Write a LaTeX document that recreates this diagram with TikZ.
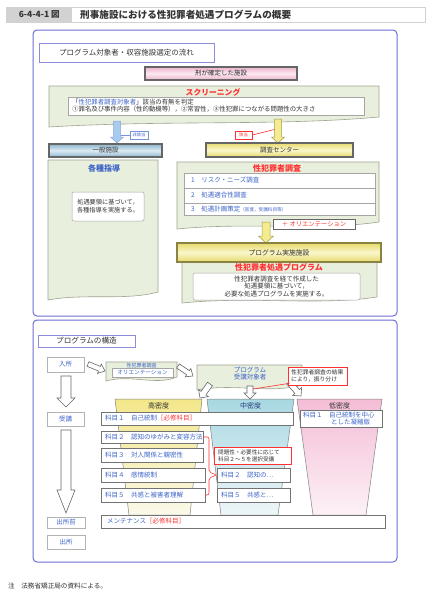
\documentclass[tikz,border=0pt]{standalone}
\usepackage{fontspec}
\setmainfont{Noto Sans CJK JP}
\usetikzlibrary{shadows}
\definecolor{pblue}{HTML}{6E6ED6}
\definecolor{tblue}{HTML}{3C64C8}
\definecolor{tred}{HTML}{FF3030}
\definecolor{gfill}{HTML}{E9EFDD}
\definecolor{gdraw}{HTML}{9EA590}
\definecolor{pk1}{HTML}{EDB3CA}
\definecolor{pk2}{HTML}{FBE8F0}
\definecolor{bl1}{HTML}{8DB6CE}
\definecolor{bl2}{HTML}{DCEBF4}
\definecolor{ye1}{HTML}{E6DA6C}
\definecolor{ye2}{HTML}{FBF7CC}
\definecolor{ablue}{HTML}{A6CDEE}
\definecolor{ayel}{HTML}{F4EC8E}
\definecolor{fh1}{HTML}{F3E78A}
\definecolor{fh2}{HTML}{FBF9EA}
\definecolor{fm1}{HTML}{A8D8E2}
\definecolor{fm2}{HTML}{EEF6F9}
\definecolor{fl1}{HTML}{F4BDD6}
\definecolor{fl2}{HTML}{FCF1F6}
\definecolor{txt}{HTML}{333333}
\newcommand\fs[1]{\fontsize{#1}{8}\selectfont}
% box node: name, style, x1, y1, x2, y2, text
\newcommand\bx[7]{\node[#2,minimum width={#5-#3},minimum height={#6-#4},inner sep=0pt] (#1) at ({(#3+#5)/2},{(#4+#6)/2}) {#7};}
% wavy-bottom panel: style, x1, y1, x2, yLeft, yRight
\newcommand\wavy[6]{\path[#1] (#2,#3) -- (#4,#3) -- (#4,#6) .. controls ({#4-0.3*(#4-#2)},{#6+9}) and ({#2+0.35*(#4-#2)},{#5-7}) .. (#2,#5) -- cycle;}
% vertical block arrow: style, x, ytop, ybot, shaft, head, headlen
\newcommand\varrow[7]{\path[#1] ({#2-#5/2},#3) -- ({#2+#5/2},#3) -- ({#2+#5/2},{#4-#7}) -- ({#2+#6/2},{#4-#7}) -- (#2,#4) -- ({#2-#6/2},{#4-#7}) -- ({#2-#5/2},{#4-#7}) -- cycle;}
% block arrow between points: style, xa, ya, xb, yb, shaft, head, headlen
\newcommand\sarrow[8]{%
\pgfmathsetmacro\alen{veclen(#4-#2,#5-#3)}%
\pgfmathsetmacro\aang{atan2(#4-#2,#5-#3)}%
\begin{scope}[shift={(#2,#3)},rotate=\aang]
\varrow{#1}{0}{0}{\alen}{#6}{#7}{#8}
\end{scope}}
\begin{document}
\begin{tikzpicture}[x=1pt,y=-1pt,
  every node/.style={text=txt},
  gpanel/.style={draw=gdraw,fill=gfill,line width=0.6pt},
  wbox/.style={draw=gray!70,fill=white,line width=0.5pt},
  lbox/.style={draw=gray!60,fill=white,line width=0.6pt,text=tblue,font=\fs{6.5}},
  sbox/.style={draw=black!55,fill=white,line width=0.6pt,drop shadow={shadow xshift=1.2pt,shadow yshift=-1.2pt,fill=gray!60,opacity=0.6}},
  st/.style={anchor=west,inner sep=0pt,font=\fs{6.5},text=tblue},
  harrow/.style={draw=black!60,fill=white,line width=0.6pt},
  bevel/.style={draw=black!60,line width=1.3pt},
  redl/.style={draw=tred,line width=0.6pt}]
\useasboundingbox (0,0) rectangle (431,600);
\fill[white] (0,0) rectangle (431,600);

% ---------- title ----------
\bx{titlebar}{draw=gray!35,fill=white}{6}{7}{425}{22}{}
\bx{titlenum}{fill=gray!35}{6.5}{7.5}{72}{21.5}{\fs{8.5}\bfseries 6-4-4-1 図}
\node[anchor=west,inner sep=0pt] (titletext) at (80,14.5) {\fs{9.6}\bfseries 刑事施設における性犯罪者処遇プログラムの概要};

% ---------- upper panel ----------
\bx{upper}{draw=pblue,line width=1pt,rounded corners=4pt}{33}{30}{397}{316}{}
\bx{lab1}{draw=pblue!80,fill=white,line width=0.6pt}{39}{43}{214}{62}{\fs{7.5}プログラム対象者・収容施設選定の流れ}

\bx{kei}{bevel,top color=pk1,bottom color=pk1,middle color=pk2}{145}{67}{297}{80}{\fs{6.5}刑が確定した施設}

\wavy{gpanel}{49}{86}{379}{127}{117}
\node[font=\fs{7.8}\bfseries,text=tred] (scrt) at (213,92) {スクリーニング};
\bx{scrb}{wbox}{68}{97}{364}{115}{}
\node[anchor=west,inner sep=0pt,font=\fs{6.4}] (scr1) at (72,102) {「{\color{tblue}性犯罪者調査対象者}」該当の有無を判定};
\node[anchor=west,inner sep=0pt,font=\fs{6.4}] (scr2) at (72,109.5) {①罪名及び事件内容（性的動機等），②常習性，③性犯罪につながる問題性の大きさ};

\sarrow{draw=tblue!60,fill=ablue,line width=0.5pt}{117}{121}{117}{143}{7}{13}{6}
\sarrow{draw=ye1!70!black,fill=ayel,line width=0.5pt}{278}{119}{278}{143}{7}{13}{6}
\bx{hig}{draw=tblue!70,fill=white,line width=0.5pt}{130}{131}{148}{139}{\fs{4.3}\color{tblue}非該当}
\draw[draw=tblue!70,line width=0.5pt] (120.5,135) -- (hig.west);
\bx{gai}{redl,fill=white}{235}{131}{252}{139}{\fs{4.3}\color{tred}該当}
\draw[redl] (gai.east) -- (274.5,129.5);

\bx{ippan}{bevel,top color=bl1,bottom color=bl1,middle color=bl2}{49}{144}{162}{157}{\fs{6.5}一般施設}
\bx{chosa}{bevel,top color=ye1,bottom color=ye1,middle color=ye2}{206}{143}{353}{157}{\fs{6.5}調査センター}

% left panel
\wavy{gpanel}{48}{160}{158}{300}{292}
\node[font=\fs{8}\bfseries,text=tblue] (kakut) at (104,168) {各種指導};
\bx{kakub}{wbox,rounded corners=2pt}{72}{192}{144}{221}{}
\node[font=\fontsize{6.2}{8}\selectfont,align=center] (kakutx) at (108,206.5) {処遇要領に基づいて，\\各種指導を実施する。};

% right panel
\wavy{gpanel}{177}{162}{379}{229}{222}
\node[font=\fs{8}\bfseries,text=tred] (sat) at (277,168.5) {性犯罪者調査};
\bx{r1}{wbox}{184}{173}{375}{188}{}
\bx{r2}{wbox}{184}{188}{375}{203}{}
\bx{r3}{wbox}{184}{203}{375}{215}{}
\node[st] (r1t) at (191,180.5) {1　リスク・ニーズ調査};
\node[st] (r2t) at (191,195.5) {2　処遇適合性調査};
\node[st] (r3t) at (191,209) {3　処遇計画策定{\fs{4.6}（密度，受講科目等）}};
\bx{ori}{draw=black!60,fill=white,line width=0.7pt}{273}{219}{355}{229}{\fs{6.3}\color{tred}＋ オリエンテーション}
\sarrow{draw=ye1!70!black,fill=ayel,line width=0.5pt}{266}{222}{266}{243}{8}{15}{7}

% program facility
\wavy{gpanel}{182}{262}{377}{303}{297}
\bx{jissi}{draw=ye1!60!black,line width=1.6pt,top color=ye1,bottom color=ye1,middle color=ye2}{177}{243}{381}{262}{\fs{6.8}プログラム実施施設}
\node[font=\fs{8}\bfseries,text=tred] (shot) at (279,267.5) {性犯罪者処遇プログラム};
\bx{shob}{wbox,rounded corners=2pt}{193}{273}{360}{300}{}
\node[font=\fontsize{6.5}{7.5}\selectfont,align=center] (shotx) at (276.5,286.5) {性犯罪者調査を経て作成した\\処遇要領に基づいて，\\必要な処遇プログラムを実施する。};

% ---------- lower panel ----------
\bx{lower}{draw=pblue,line width=1pt,rounded corners=4pt}{33}{320}{397}{562}{}
\bx{lab2}{draw=pblue!80,fill=white,line width=0.6pt}{38}{335}{135}{347}{\fs{7.6}プログラムの構造}

\bx{nyu}{lbox}{47}{357}{84}{372}{入所}
\bx{jyu}{lbox}{47}{412}{84}{426}{受講}
\bx{shzen}{lbox}{47}{517}{85}{528}{出所前}
\bx{shu}{lbox}{47}{535}{85}{549}{出所}
\sarrow{harrow}{66}{376}{66}{407}{10}{18}{9}
\sarrow{harrow}{66}{430}{66}{513}{10}{18}{23}

% orientation
\wavy{gpanel}{106}{362}{177}{381}{377}
\node[font=\fs{5},text=tblue] (orit) at (141.5,365.3) {性犯罪者調査};
\bx{orib}{wbox}{112}{368.5}{173}{377}{\fs{5.6}\color{tblue}オリエンテーション}
\sarrow{harrow}{88}{364}{105}{371}{5}{10}{6}
\sarrow{harrow}{178}{366}{193}{376}{5}{10}{6}

% program target
\wavy{gpanel}{197}{365}{302}{390}{385}
\node[font=\fontsize{6.5}{7.5}\selectfont,align=center,text=tblue] (progt) at (250,373.5) {プログラム\\受講対象者};

% funnels
\path[draw=black!50,line width=0.5pt,top color=fh1,bottom color=fh2] (115,399) -- (202,399) -- (190,515) -- (129,515) -- cycle;
\path[draw=black!50,line width=0.5pt,top color=fm1,bottom color=fm2] (207,399) -- (294,399) -- (278,515) -- (221,515) -- cycle;
\path[draw=black!50,line width=0.5pt,top color=fl1,bottom color=fl2] (297,399) -- (382,399) -- (366,515) -- (313,515) -- cycle;
\node[font=\fs{7}] (hhigh) at (158.5,405.5) {高密度};
\node[font=\fs{7},text=tblue!60!black] (hmid) at (250.5,405.5) {中密度};
\node[font=\fs{7}] (hlow) at (339.5,405.5) {低密度};

\sarrow{harrow}{210}{384}{200}{398}{6}{12}{6}
\sarrow{harrow}{250}{386}{250}{399}{6}{12}{6}
\sarrow{harrow}{289}{382}{301}{396}{6}{12}{6}

\bx{call1}{redl,fill=white}{288}{367}{347}{385}{}
\node[anchor=west,inner sep=0pt,font=\fontsize{5.8}{7}\selectfont,align=left] (call1t) at (291,376) {性犯罪者調査の結果\\により，振り分け};
\coordinate (p1) at (253,389);
\draw[redl] ([shift={(2,-2)}]call1.south west) -- (p1);

% subject boxes
\bx{s1}{sbox}{101}{412}{293}{425}{}
\bx{lo1}{sbox}{300}{410}{382}{427}{}
\bx{s2}{sbox}{101}{431}{203}{443}{}
\bx{s3}{sbox}{101}{448}{203}{462}{}
\bx{s4}{sbox}{101}{468}{205}{482}{}
\bx{s5}{sbox}{101}{488}{205}{502}{}
\bx{m2}{sbox}{217}{468}{290}{482}{}
\bx{m5}{sbox}{217}{488}{290}{502}{}
\bx{mn}{sbox}{101}{515}{385}{528}{}
\node[st] (s1t) at (105,418.5) {科目１　自己統制{\color{tred}［必修科目］}};
\node[st] (lo1t) at (303,415) {科目１　自己統制を中心};
\node[st] (lo1u) at (331,422) {とした凝縮版};
\node[st] (s2t) at (105,437) {科目２　認知のゆがみと変容方法};
\node[st] (s3t) at (105,455) {科目３　対人関係と親密性};
\node[st] (s4t) at (105,475) {科目４　感情統制};
\node[st] (s5t) at (105,495) {科目５　共感と被害者理解};
\node[st] (m2t) at (221,475) {科目２　認知の…};
\node[st] (m5t) at (221,495) {科目５　共感と…};
\node[st] (mnt) at (107,521.5) {メンテナンス{\color{tred}［必修科目］}};

\bx{call2}{redl,fill=white}{214}{447}{291}{464}{}
\node[anchor=west,inner sep=0pt,font=\fontsize{5.6}{7}\selectfont,align=left] (call2t) at (218,455.5) {問題性・必要性に応じて\\科目２～５を選択受講};
\draw[redl,rounded corners=2pt] (s2.east) -- (209,437) -- (209,472) -- (m2.west) -- (209,478) -- (209,495) -- (s5.east);

% footer
\node[anchor=west,inner sep=0pt,font=\fs{6.6}] (note) at (8,586) {注　法務省矯正局の資料による。};
\end{tikzpicture}
\end{document}
